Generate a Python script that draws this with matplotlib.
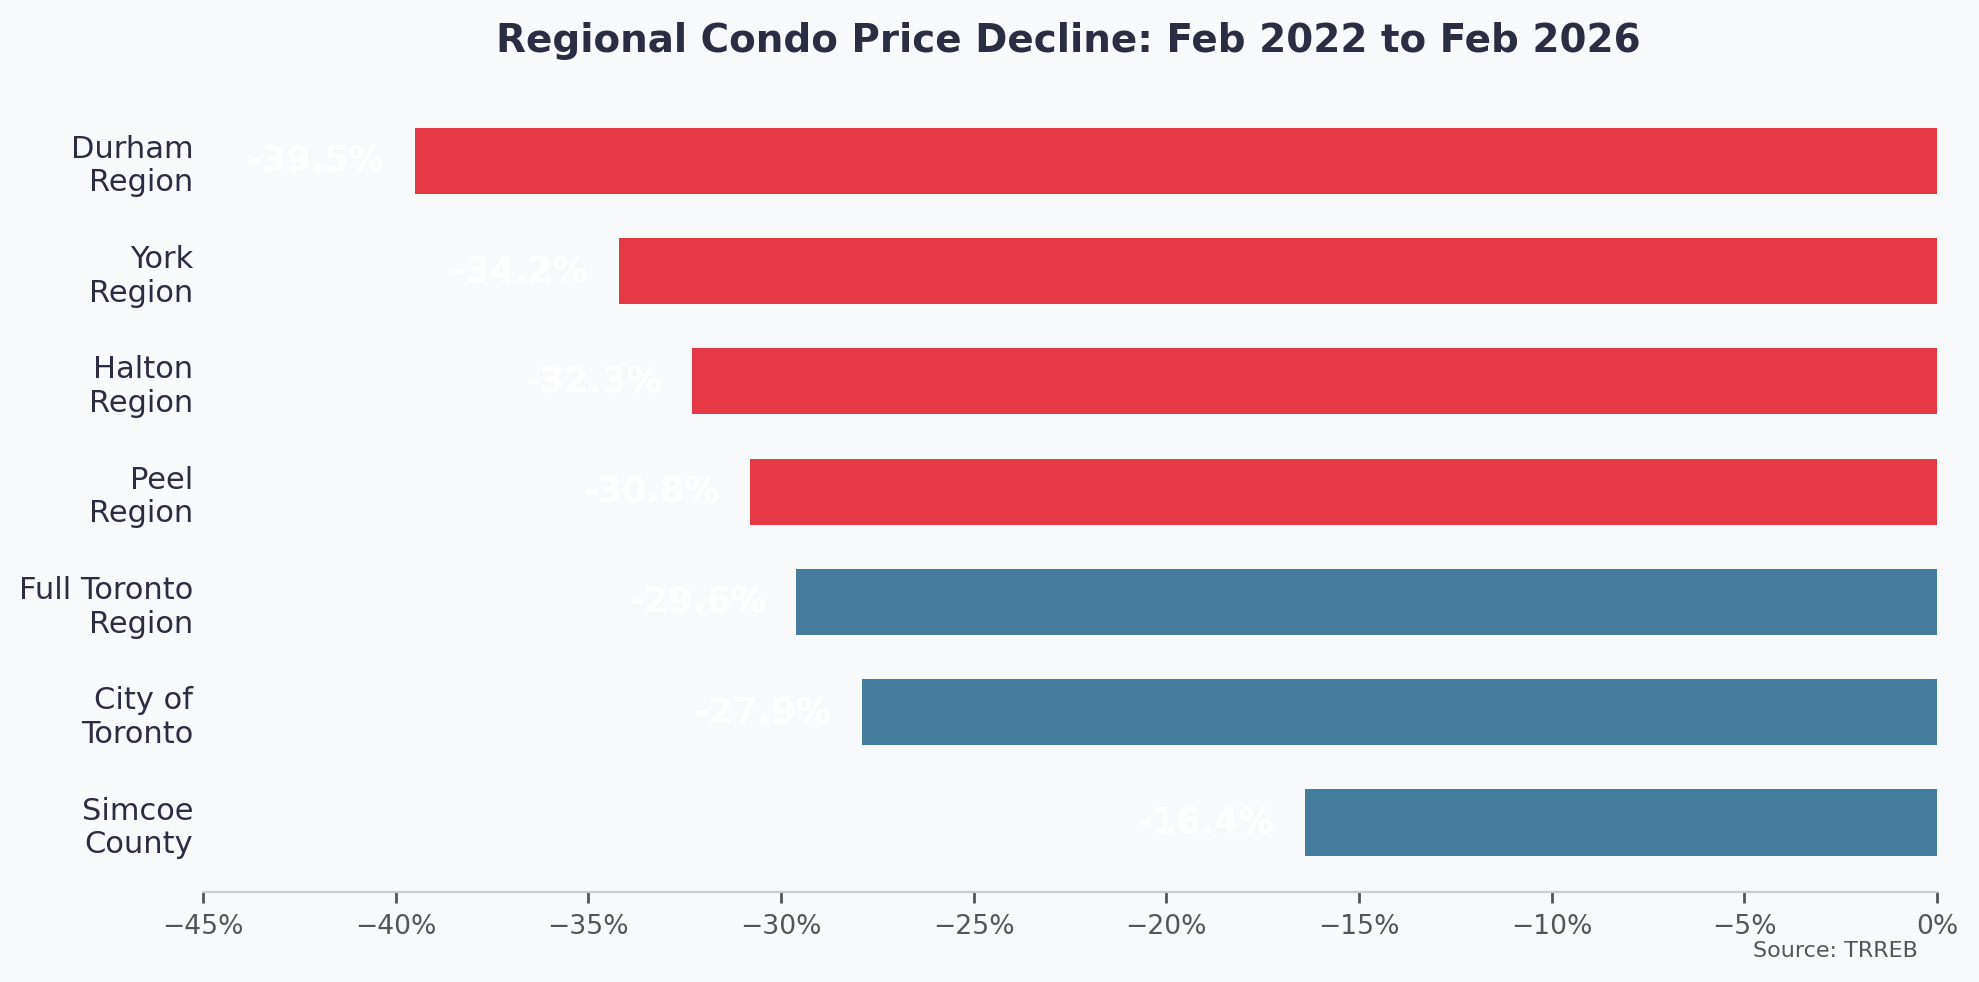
import matplotlib
matplotlib.use("Agg")
import matplotlib.pyplot as plt
from matplotlib.ticker import FuncFormatter

regions = ["Durham\nRegion", "York\nRegion", "Halton\nRegion", "Peel\nRegion",
           "Full Toronto\nRegion", "City of\nToronto", "Simcoe\nCounty"]
change = [-39.5, -34.2, -32.3, -30.8, -29.6, -27.9, -16.4]
colors = ["#E63946", "#E63946", "#E63946", "#E63946", "#457B9D", "#457B9D", "#457B9D"]

bg = "#F8F9FA"
dark = "#2B2D42"

fig = plt.figure(figsize=(9.895, 4.91), dpi=200, facecolor=bg)
ax = fig.add_axes([0.1026, 0.0916, 0.8762, 0.8154])
ax.set_facecolor(bg)

ypos = list(range(len(regions)))[::-1]
ax.barh(ypos, change, height=0.6, color=colors)

for y, v in zip(ypos, change):
    ax.text(v - 0.8, y, f"{v}%", ha="right", va="center",
            color="white", fontsize=12.7, fontweight="bold")

ax.set_xlim(-45, 0)
ax.set_yticks(ypos)
ax.set_yticklabels(regions, fontsize=11, color=dark)
ax.tick_params(axis="y", length=0)
ax.tick_params(axis="x", labelsize=9.6, colors="#555555", length=4, width=1, pad=4)
ax.xaxis.set_major_formatter(FuncFormatter(lambda x, p: f"{x:.0f}%".replace("-", "\u2212")))
for s in ["top", "right", "left"]:
    ax.spines[s].set_visible(False)
ax.spines["bottom"].set_color("#CCCCCC")

fig.text(0.54, 0.958, "Regional Condo Price Decline: Feb 2022 to Feb 2026",
         ha="center", va="center", fontsize=14, fontweight="bold", color=dark)
fig.text(0.969, 0.032, "Source: TRREB", ha="right", va="center", fontsize=8, color="#555555")

fig.savefig("out.png", dpi=200, facecolor=bg)
